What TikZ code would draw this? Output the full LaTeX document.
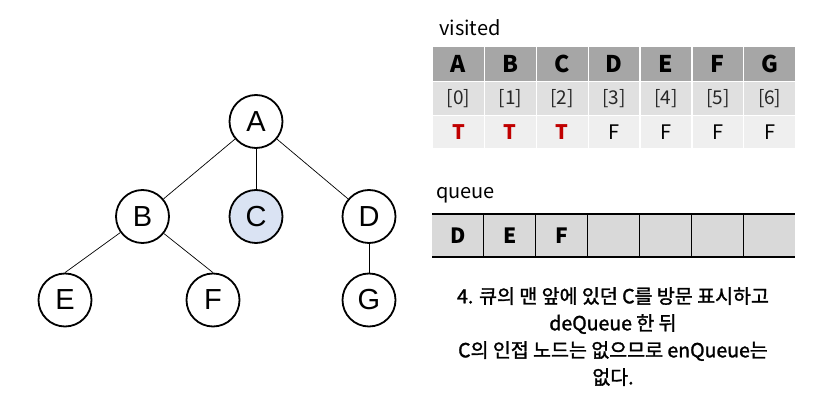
\documentclass[tikz,border=0pt]{standalone}
\usepackage{fontspec}
\setmainfont{Liberation Sans}
\newfontfamily\kr{Noto Sans CJK KR}
\newfontfamily\krb{Noto Sans CJK KR}[FakeBold=1.5]
\definecolor{hdr}{HTML}{A6A6A6}
\definecolor{rowb}{HTML}{E0E0E0}
\definecolor{rowc}{HTML}{EFEFEF}
\definecolor{qfill}{HTML}{D9D9D9}
\definecolor{tred}{HTML}{C00000}
\definecolor{cblue}{HTML}{DAE3F3}
\tikzset{
  vert/.style={circle, draw=black, line width=1.8pt, minimum size=53pt, inner sep=0pt, font=\fontsize{29}{32}\selectfont, fill=white},
  edge/.style={line width=0.7pt},
  cellbox/.style={draw=white, line width=1.2pt, minimum width=51.86pt, inner sep=0pt, anchor=north west},
  qcell/.style={fill=qfill, minimum width=51.86pt, minimum height=42pt, inner sep=0pt, anchor=north west, font=\kr\bfseries\fontsize{21}{23}\selectfont},
  lbl/.style={anchor=west, inner sep=0pt, font=\kr\fontsize{20}{22}\selectfont},
  tval/.style={font=\kr\bfseries\fontsize{20}{22}\selectfont, text=tred},
  fval/.style={font=\kr\fontsize{20}{22}\selectfont, text=black}
}
\begin{document}
\begin{tikzpicture}[x=1pt,y=-1pt]
\useasboundingbox (0,0) rectangle (824,419);
% tree
\node[vert] (A) at (256,121.5) {A};
\node[vert] (B) at (142.5,216.5) {B};
\node[vert, fill=cblue] (C) at (256,216.5) {C};
\node[vert] (D) at (369,216.5) {D};
\node[vert] (E) at (65,300) {E};
\node[vert] (F) at (213,300) {F};
\node[vert] (G) at (369,300) {G};
\draw[edge] (A) -- (B);
\draw[edge] (A) -- (C);
\draw[edge] (A) -- (D);
\draw[edge] (B) -- (E.north);
\draw[edge] (B) -- (F.north);
\draw[edge] (D) -- (G);
% visited table
\node[lbl] (vlabel) at (439,28) {visited};
\foreach \l [count=\i from 0] in {A,B,C,D,E,F,G}{
  \node[cellbox, fill=hdr, minimum height=35pt, font=\kr\bfseries\fontsize{23}{26}\selectfont] (h\i) at (432+51.86*\i,46) {\l};
  \node[cellbox, fill=rowb, minimum height=34pt, font=\kr\fontsize{19}{22}\selectfont, text=black!85] (ix\i) at (432+51.86*\i,81) {[\i]};
}
\foreach \v/\s [count=\i from 0] in {T/tval,T/tval,T/tval,F/fval,F/fval,F/fval,F/fval}{
  \node[cellbox, fill=rowc, minimum height=33pt, \s] (v\i) at (432+51.86*\i,115) {\v};
}
% queue
\node[lbl] (qlabel) at (436,195) {queue};
\foreach \l [count=\i from 0] in {D,E,F,{},{},{},{}}{
  \node[qcell] (q\i) at (432+51.86*\i,214.5) {\l};
}
\foreach \i in {1,...,6}{
  \draw[line width=0.8pt] (q\i.north west) -- (q\i.south west);
}
\draw[line width=2pt] (q0.north west) -- (q6.north east);
\draw[line width=2pt] (q0.south west) -- (q6.south east);
% caption
\node[align=center, inner sep=0pt, font=\krb\fontsize{19.5}{27}\selectfont, anchor=north] (cap) at (613,287)
  {4. 큐의 맨 앞에 있던 C를 방문 표시하고\\deQueue 한 뒤\\C의 인접 노드는 없으므로 enQueue는\\없다.};
\end{tikzpicture}
\end{document}
